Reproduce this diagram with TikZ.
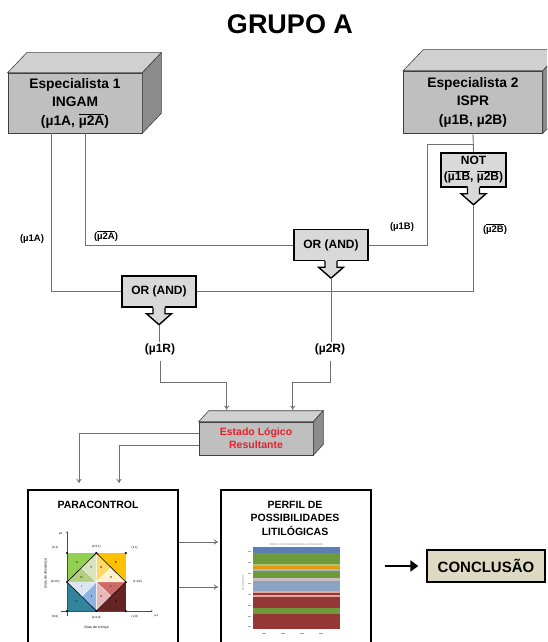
\documentclass[tikz,border=0pt]{standalone}
\usepackage{fontspec}
\setmainfont{Liberation Sans}
\usetikzlibrary{arrows.meta,calc}
\definecolor{frontgray}{HTML}{BFBFBF}
\definecolor{topgray}{HTML}{D0D0D0}
\definecolor{sidegray}{HTML}{8C8C8C}
\definecolor{edgegray}{HTML}{404040}
\definecolor{gatefill}{HTML}{D9D9D9}
\definecolor{linegray}{HTML}{707070}
\definecolor{estred}{HTML}{E8202A}
\definecolor{conclfill}{HTML}{DDD9C3}
\definecolor{cA}{HTML}{92D050}
\definecolor{cB}{HTML}{FFC000}
\definecolor{cC}{HTML}{31849B}
\definecolor{cD}{HTML}{632423}
\definecolor{cE}{HTML}{B3CF7F}
\definecolor{cF}{HTML}{D7E4BD}
\definecolor{cG}{HTML}{FFD966}
\definecolor{cH}{HTML}{FFF2CC}
\definecolor{cI}{HTML}{DCE6F2}
\definecolor{cJ}{HTML}{8EB4E3}
\definecolor{cK}{HTML}{E6B9B8}
\definecolor{cL}{HTML}{CD6A67}
\definecolor{pBlue}{HTML}{5B7FB5}
\definecolor{pGreen}{HTML}{6F9A3C}
\definecolor{pLGreen}{HTML}{A9C47A}
\definecolor{pOrange}{HTML}{E39B0B}
\definecolor{pLBlue}{HTML}{A5B8D0}
\definecolor{pLGray}{HTML}{CDBFBF}
\definecolor{pBGray}{HTML}{8DA3C4}
\definecolor{pSalmon}{HTML}{E0A89C}
\definecolor{pRed}{HTML}{953735}
\newcommand\ovl[1]{$\overline{\hbox{#1}}$}
\newcommand\cubefaces[3]{%
  \filldraw[draw=edgegray, fill=topgray, line width=0.6pt] (#1.north west) -- ++(#2,-#3) -- ($(#1.north east)+(#2,-#3)$) -- (#1.north east) -- cycle;
  \filldraw[draw=edgegray, fill=sidegray, line width=0.6pt] (#1.north east) -- ++(#2,-#3) -- ($(#1.south east)+(#2,-#3)$) -- (#1.south east) -- cycle;
}
\newcommand\gatearrow[2]{%
  \fill[gatefill] ($(#1.south)+(-6,-1.5)$) -- ($(#1.south)+(-6,6)$) -- ($(#1.south)+(-12.5,6)$) -- ($(#1.south)+(0,17)$) -- ($(#1.south)+(12.5,6)$) -- ($(#1.south)+(6,6)$) -- ($(#1.south)+(6,-1.5)$) -- cycle;
  \draw[black, line width=1.4pt] ($(#1.south)+(-6,0)$) -- ($(#1.south)+(-6,6)$) -- ($(#1.south)+(-12.5,6)$) -- ($(#1.south)+(0,17)$) coordinate (#2) -- ($(#1.south)+(12.5,6)$) -- ($(#1.south)+(6,6)$) -- ($(#1.south)+(6,0)$);
}
\tikzset{
  conn/.style={draw=linegray, line width=0.9pt},
  arr/.style={conn, -{To[length=4pt,width=5pt]}},
  bigarr/.style={draw=black, line width=2.6pt, -{Triangle[length=8pt,width=11pt]}},
  frontface/.style={draw=edgegray, fill=frontgray, line width=0.6pt, inner sep=0pt, align=center, font=\bfseries\fontsize{13.8}{18.5}\selectfont},
  gate/.style={draw=black, fill=gatefill, line width=1.4pt, inner sep=0pt, align=center, font=\bfseries\fontsize{12}{16}\selectfont},
  lbl/.style={font=\bfseries\fontsize{9.5}{11}\selectfont, inner sep=1pt},
  biglbl/.style={font=\bfseries\fontsize{12}{14}\selectfont, inner sep=1pt},
  panel/.style={draw=black, line width=1.6pt, fill=white, inner sep=0pt},
  tiny/.style={font=\fontsize{3}{3.5}\selectfont, inner sep=0.5pt},
}
\begin{document}
\begin{tikzpicture}[x=1pt,y=-1pt]
\useasboundingbox (0,0) rectangle (547,642);
\clip (0,0) rectangle (547,642);

% title
\node[font=\bfseries\fontsize{27}{30}\selectfont] (title) at (290,24) {GRUPO A};

% specialists
\node[frontface, minimum width=134pt, minimum height=60pt] (esp1) at (75,103) {Especialista 1\\INGAM\\(µ1A, \ovl{µ2A})};
\cubefaces{esp1}{19}{20}
\node[frontface, minimum width=139pt, minimum height=62pt] (esp2) at (473,102) {Especialista 2\\ISPR\\(µ1B, µ2B)};
\cubefaces{esp2}{20}{21}

% gates
\node[gate, minimum width=65pt, minimum height=34pt] (notg) at (473.5,170) {NOT\\(\ovl{µ1B}, \ovl{µ2B})};
\gatearrow{notg}{nottip}
\node[gate, minimum width=74pt, minimum height=31pt] (or2) at (331,245) {OR (AND)};
\gatearrow{or2}{or2tip}
\node[gate, minimum width=74pt, minimum height=31pt] (or1) at (159,291.5) {OR (AND)};
\gatearrow{or1}{or1tip}

% labels
\node[lbl] (l1a) at (32,239) {(µ1A)};
\node[lbl] (l2a) at (106,236) {(\ovl{µ2A})};
\node[lbl] (l1b) at (402,227) {(µ1B)};
\node[lbl] (l2b) at (495,229) {(\ovl{µ2B})};
\node[biglbl] (m1r) at (160,349) {(µ1R)};
\node[biglbl] (m2r) at (330,349) {(µ2R)};

% connectors top part
\draw[conn] (esp1.south west) ++(44,0) |- (or1.west);
\draw[conn] (esp1.south west) ++(78,0) |- (or2.west);
\draw[conn] (esp2.south) -- (notg.north);
\coordinate (br) at ($(esp2.south)+(0,11)$);
\draw[conn] (br) -| ($(or2.east)+(59,0)$) -- (or2.east);
\draw[conn] (nottip) |- (or1.east);
\draw[conn] (or1tip) -- (or1tip |- m1r.north);
\draw[conn] (or2tip) -- (or2tip |- m2r.north);

% estado
\node[frontface, minimum width=114pt, minimum height=33pt, font=\bfseries\fontsize{10.5}{13}\selectfont, text=estred] (estado) at (256,438.5) {Estado Lógico\\Resultante};
\cubefaces{estado}{10}{11}
\coordinate (etop1) at ($(estado.north west)+(28,-12)$);
\coordinate (etop2) at ($(estado.north west)+(94,-12)$);
\draw[arr] ([yshift=-5pt]m1r.south) -- ++(0,22) -| (etop1);
\draw[arr] ([yshift=-5pt]m2r.south) -- ++(0,22) -| (etop2);

% panels
\node[panel, minimum width=150pt, minimum height=175pt, anchor=north west] (para) at (27,489) {};
\node[panel, minimum width=150pt, minimum height=175pt, anchor=north west] (perfil) at (220,489) {};
\coordinate (pin1) at ($(para.north west)+(52,-6)$);
\coordinate (pin2) at ($(para.north west)+(92,-6)$);
\draw[arr] ([yshift=5.5pt]estado.west) -| (pin1);
\draw[arr] ([yshift=-6.5pt]estado.west) -| (pin2);
\draw[arr] ($(para.north east)+(0,53)$) -- ($(perfil.north west)+(-2,53)$);
\draw[arr] ($(para.north east)+(0,98)$) -- ($(perfil.north west)+(-2,98)$);

\node[font=\bfseries\fontsize{10.5}{13}\selectfont] (paratitle) at (98,505) {PARACONTROL};
\node[font=\bfseries\fontsize{10.5}{13.5}\selectfont, align=center] (perfiltitle) at (295,518) {PERFIL DE\\POSSIBILIDADES\\LITILÓGICAS};

% paracontrol chart
\begin{scope}[shift={(67,611)},x=58.8pt,y=58pt]
 \fill[cA] (0,1)--(0.5,1)--(0,0.5)--cycle;
 \fill[cB] (1,1)--(0.5,1)--(1,0.5)--cycle;
 \fill[cC] (0,0)--(0.5,0)--(0,0.5)--cycle;
 \fill[cD] (1,0)--(0.5,0)--(1,0.5)--cycle;
 \fill[cF] (0.5,1)--(0.25,0.75)--(0.5,0.5)--cycle;
 \fill[cE] (0,0.5)--(0.25,0.75)--(0.5,0.5)--cycle;
 \fill[cG] (0.5,1)--(0.75,0.75)--(0.5,0.5)--cycle;
 \fill[cH] (1,0.5)--(0.75,0.75)--(0.5,0.5)--cycle;
 \fill[cI] (0,0.5)--(0.25,0.25)--(0.5,0.5)--cycle;
 \fill[cJ] (0.5,0)--(0.25,0.25)--(0.5,0.5)--cycle;
 \fill[cK] (0.5,0)--(0.75,0.25)--(0.5,0.5)--cycle;
 \fill[cL] (1,0.5)--(0.75,0.25)--(0.5,0.5)--cycle;
 \draw[white, line width=0.4pt] (0.25,0.25)--(0.75,0.75) (0.25,0.75)--(0.75,0.25) (0.5,0)--(0.5,1) (0,0.5)--(1,0.5);
 \draw[black, line width=0.6pt] (0.5,1)--(0,0.5)--(0.5,0)--(1,0.5)--cycle;
 \draw[gray!60!black, line width=0.4pt, -{Stealth[length=2pt,width=1.6pt]}] (0,-0.08) -- (0,1.38);
 \draw[gray!60!black, line width=0.4pt, -{Stealth[length=2pt,width=1.6pt]}] (-0.1,0) -- (1.46,0);
 \foreach \p in {(0,0),(0.5,0),(1,0),(0,0.5),(1,0.5),(0,1),(0.5,1),(1,1)} \fill[black] \p circle[radius=1.2pt];
 \node[tiny] at (0.167,0.833) {A};
 \node[tiny] at (0.833,0.833) {B};
 \node[tiny] at (0.167,0.167) {C};
 \node[tiny] at (0.833,0.167) {D};
 \node[tiny] at (0.25,0.583) {E};
 \node[tiny] at (0.417,0.75) {F};
 \node[tiny] at (0.583,0.75) {G};
 \node[tiny] at (0.75,0.583) {H};
 \node[tiny] at (0.25,0.417) {I};
 \node[tiny] at (0.417,0.25) {J};
 \node[tiny] at (0.583,0.25) {K};
 \node[tiny] at (0.75,0.417) {L};
 \node[tiny] at (-0.2,1.09) {(0,1)};
 \node[tiny] at (0.5,1.1) {(1/2,1)};
 \node[tiny] at (1.15,1.09) {(1,1)};
 \node[tiny] at (-0.2,0.5) {(0,1/2)};
 \node[tiny] at (1.2,0.5) {(1,1/2)};
 \node[tiny] at (-0.2,-0.09) {(0,0)};
 \node[tiny] at (0.5,-0.12) {(1/2,0)};
 \node[tiny] at (1.15,-0.09) {(1,0)};
 \node[tiny] at (-0.11,1.33) {µ2};
 \node[tiny] at (1.52,-0.08) {µ1};
 \node[tiny, font=\itshape\fontsize{3.5}{4}\selectfont, rotate=90] at (-0.36,0.65) {Grau de descrença};
 \node[tiny, font=\itshape\fontsize{3.5}{4}\selectfont] at (0.5,-0.29) {Grau de crença};
\end{scope}

% perfil chart
\fill[pBlue] (253,547) rectangle (340,553);
\fill[pGreen] (253,553) rectangle (340,564);
\fill[pLGreen] (253,564) rectangle (340,566);
\fill[pOrange] (253,566) rectangle (340,569);
\fill[pLBlue] (253,569) rectangle (340,571);
\fill[pGreen] (253,571) rectangle (340,578);
\fill[pLGray] (253,578) rectangle (340,581);
\fill[pBGray] (253,581) rectangle (340,591);
\fill[pSalmon] (253,591) rectangle (340,592.5);
\fill[pRed] (253,592.5) rectangle (340,594.5);
\fill[pSalmon] (253,594.5) rectangle (340,597);
\fill[pRed] (253,597) rectangle (340,608);
\fill[pGreen] (253,608) rectangle (340,614);
\fill[pRed] (253,614) rectangle (340,629);
\node[font=\fontsize{2.6}{3}\selectfont, text=gray] (ptit) at (296.5,544.5) {PERFIL DE POSSIBILIDADES LITOLÓGICAS};
\node[font=\fontsize{2.6}{3}\selectfont, text=gray, rotate=90] (pyl) at (243,583) {Profundidade};
\foreach \yy in {551,562,573,583,594,605,616,626} \draw[gray!70, line width=0.5pt] (247.5,\yy) -- (250.5,\yy);
\foreach \xx in {264,283,302,321} \draw[gray!70, line width=0.5pt] (\xx-2,633) -- (\xx+2,633);

% conclusion
\node[draw=black, fill=conclfill, line width=1.4pt, minimum width=118pt, minimum height=32pt, inner sep=0pt, font=\bfseries\fontsize{15}{17}\selectfont] (concl) at (486,566) {CONCLUSÃO};
\draw[bigarr] ($(perfil.north east)+(13,77)$) -- ([xshift=-8pt]concl.west);
\end{tikzpicture}
\end{document}
